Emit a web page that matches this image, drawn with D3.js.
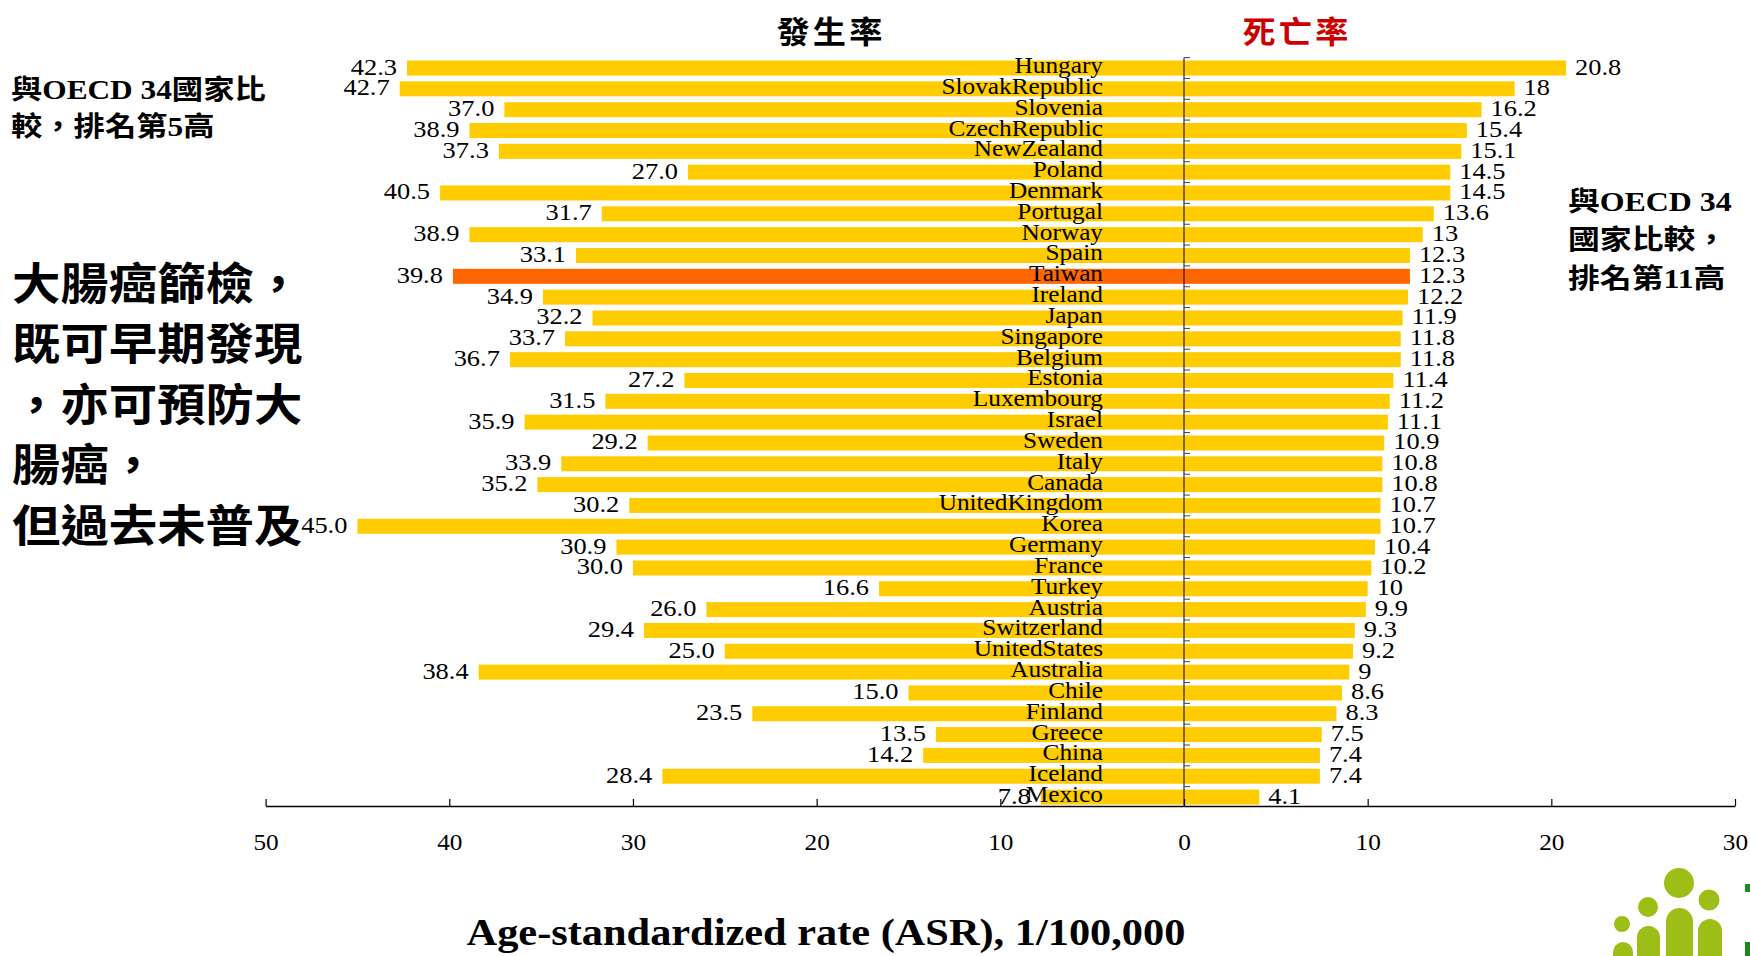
<!DOCTYPE html>
<html><head><meta charset="utf-8">
<script src="https://cdn.jsdelivr.net/npm/d3@7"></script>
<style>
html,body{margin:0;padding:0;background:#fff;}
svg{display:block;}
</style></head>
<body>
<svg id="chart" width="1750" height="956"></svg>
<script>
const countries = ["Hungary","SlovakRepublic","Slovenia","CzechRepublic","NewZealand","Poland","Denmark","Portugal","Norway","Spain","Taiwan","Ireland","Japan","Singapore","Belgium","Estonia","Luxembourg","Israel","Sweden","Italy","Canada","UnitedKingdom","Korea","Germany","France","Turkey","Austria","Switzerland","UnitedStates","Australia","Chile","Finland","Greece","China","Iceland","Mexico"];
const incidence = [42.3,42.7,37.0,38.9,37.3,27.0,40.5,31.7,38.9,33.1,39.8,34.9,32.2,33.7,36.7,27.2,31.5,35.9,29.2,33.9,35.2,30.2,45.0,30.9,30.0,16.6,26.0,29.4,25.0,38.4,15.0,23.5,13.5,14.2,28.4,7.8];
const mortality = [20.8,18,16.2,15.4,15.1,14.5,14.5,13.6,13,12.3,12.3,12.2,11.9,11.8,11.8,11.4,11.2,11.1,10.9,10.8,10.8,10.7,10.7,10.4,10.2,10,9.9,9.3,9.2,9,8.6,8.3,7.5,7.4,7.4,4.1];
const highlight = "Taiwan";
const leftTicks = [50,40,30,20,10,0];
const rightTicks = [10,20,30];
const titleLeft = "發生率";
const titleRight = "死亡率";
const axisTitle = "Age-standardized rate (ASR), 1/100,000";
const noteLeft = ["與OECD 34國家比","較，排名第5高"];
const noteRight = ["與OECD 34","國家比較，","排名第11高"];
const bigNote = ["大腸癌篩檢，","既可早期發現","，亦可預防大","腸癌，","但過去未普及"];

const SERIF = "'Liberation Serif','Times New Roman','Noto Sans CJK TC',serif";
const CJK = "'Noto Sans CJK TC','Noto Sans CJK SC',sans-serif";
const YELLOW = "#FFCC00", ORANGE = "#FF6600";

const svg = d3.select("#chart");
function stretch(sel, sx){
  sel.attr("transform", function(){
    const x = +this.getAttribute("x") || 0;
    return `matrix(${sx},0,0,1,${x*(1-sx)},0)`;
  });
}

const x0 = 1184;
const xLeft = d3.scaleLinear().domain([0,50]).range([x0, 265.6]);
const xRight = d3.scaleLinear().domain([0,30]).range([x0, 1735]);
const y = d3.scaleBand().domain(countries).range([57.6, 807.5]).paddingInner(0.28).paddingOuter(0.14);
const axisY = 806;

const rows = countries.map((c,i)=>({c, inc: incidence[i], mor: mortality[i]}));

// bars
svg.append("g").selectAll("rect").data(rows).join("rect")
  .attr("x", d=>xLeft(d.inc)).attr("y", d=>y(d.c))
  .attr("width", d=>xLeft(0)-xLeft(d.inc)).attr("height", y.bandwidth())
  .attr("fill", d=>d.c===highlight?ORANGE:YELLOW);
svg.append("g").selectAll("rect").data(rows).join("rect")
  .attr("x", xRight(0)).attr("y", d=>y(d.c))
  .attr("width", d=>xRight(d.mor)-xRight(0)).attr("height", y.bandwidth())
  .attr("fill", d=>d.c===highlight?ORANGE:YELLOW);

// centre axis
const bandTop = y.range()[0];
svg.append("line").attr("x1",x0).attr("x2",x0).attr("y1",bandTop).attr("y2",axisY)
  .attr("stroke","#000").attr("stroke-width",1);
svg.append("g").selectAll("line").data(countries).join("line")
  .attr("x1",x0).attr("x2",x0+6)
  .attr("y1",d=>y(d)-y.step()*y.paddingInner()/2).attr("y2",d=>y(d)-y.step()*y.paddingInner()/2)
  .attr("stroke","#444").attr("stroke-width",1);

// country labels
svg.append("g").selectAll("text").data(rows).join("text")
  .attr("x",1103).attr("y",d=>y(d.c)+y.bandwidth()/2+5)
  .attr("text-anchor","end").attr("font-family",SERIF).attr("font-size",23)
  .attr("fill","#000").text(d=>d.c).call(stretch,1.1);

// left values
svg.append("g").selectAll("text").data(rows).join("text")
  .attr("x",d=>xLeft(d.inc)-10).attr("y",d=>y(d.c)+y.bandwidth()/2+6.5)
  .attr("text-anchor","end").attr("font-family",SERIF).attr("font-size",23)
  .attr("fill","#000").text(d=>d.inc.toFixed(1)).call(stretch,1.15);
// right values
svg.append("g").selectAll("text").data(rows).join("text")
  .attr("x",d=>xRight(d.mor)+9).attr("y",d=>y(d.c)+y.bandwidth()/2+6.5)
  .attr("text-anchor","start").attr("font-family",SERIF).attr("font-size",23)
  .attr("fill","#000").text(d=>String(d.mor)).call(stretch,1.15);

// bottom axes
function styleAxis(g){
  g.select(".domain").attr("stroke","#000").attr("stroke-width",1.6);
  g.selectAll(".tick line").attr("stroke","#000").attr("stroke-width",1.2);
  g.selectAll(".tick text").attr("font-family",SERIF).attr("font-size",23).attr("fill","#000")
    .attr("dy",null).attr("y",44).call(stretch,1.1);
}
svg.append("g").attr("transform",`translate(0,${axisY})`)
  .call(d3.axisBottom(xLeft).tickValues(leftTicks).tickSize(-7).tickSizeOuter(0).tickFormat(d3.format("d")))
  .call(styleAxis);
svg.append("g").attr("transform",`translate(0,${axisY})`)
  .call(d3.axisBottom(xRight).tickValues(rightTicks).tickSize(-7).tickSizeOuter(0).tickFormat(d3.format("d")))
  .call(styleAxis);

// axis title
svg.append("text").attr("x",826).attr("y",945).attr("text-anchor","middle")
  .attr("font-family",SERIF).attr("font-weight","bold").attr("font-size",37)
  .text(axisTitle).call(stretch,1.145);

// titles
svg.append("text").attr("x",831).attr("y",43).attr("text-anchor","middle")
  .attr("font-family",CJK).attr("font-weight","bold").attr("font-size",31).attr("letter-spacing",3)
  .attr("fill","#000").text(titleLeft).call(stretch,1.07);
svg.append("text").attr("x",1297).attr("y",43).attr("text-anchor","middle")
  .attr("font-family",CJK).attr("font-weight","bold").attr("font-size",31).attr("letter-spacing",3)
  .attr("fill","#CC0000").text(titleRight).call(stretch,1.07);

// notes
svg.append("g").selectAll("text").data(noteLeft).join("text")
  .attr("x",11).attr("y",(d,i)=>99+i*37)
  .attr("font-family",SERIF).attr("font-weight","bold").attr("font-size",27)
  .text(d=>d).call(stretch,1.16);
svg.append("g").selectAll("text").data(noteRight).join("text")
  .attr("x",1568).attr("y",(d,i)=>211+i*38.5)
  .attr("font-family",SERIF).attr("font-weight","bold").attr("font-size",27)
  .text(d=>d).call(stretch,1.18);
svg.append("g").selectAll("text").data(bigNote).join("text")
  .attr("x",12).attr("y",(d,i)=>300+i*60.5)
  .attr("font-family",CJK).attr("font-weight","bold").attr("font-size",44)
  .text(d=>d).call(stretch,1.1);

// logo (decorative)
const logo = svg.append("g").attr("fill","#9DBE17");
[[1679,883,15],[1648,907,10],[1709,900,10.5],[1622,924,8]].forEach(([cx,cy,r])=>logo.append("circle").attr("cx",cx).attr("cy",cy).attr("r",r));
[[1666,908,27],[1637,926,23],[1698,919,24],[1613,942,20]].forEach(([x,yy,w])=>logo.append("rect").attr("x",x).attr("y",yy).attr("width",w).attr("height",80).attr("rx",w/2));
svg.append("rect").attr("x",1745).attr("y",884).attr("width",6).attr("height",8).attr("fill","#1A8A1A");
svg.append("rect").attr("x",1745).attr("y",942).attr("width",6).attr("height",14).attr("fill","#1A8A1A");
</script>
</body></html>
